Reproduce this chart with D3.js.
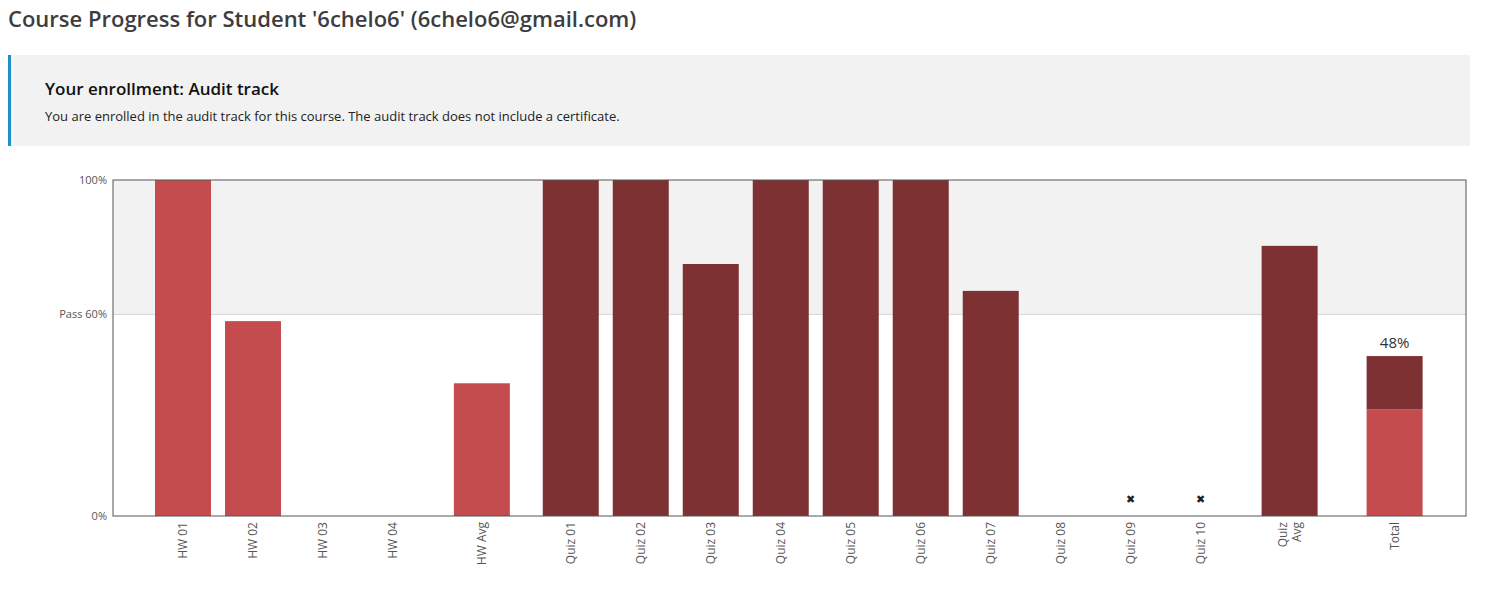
<!DOCTYPE html>
<html><head><meta charset="utf-8">
<script src="https://cdn.jsdelivr.net/npm/d3@7"></script>
<style>
body{margin:0;background:#fff;font-family:"Open Sans",sans-serif;}
h1{position:absolute;left:8px;top:3px;margin:0;font-size:22px;font-weight:600;color:#3d3d3d;}
.box{position:absolute;left:8px;top:55px;width:1459px;height:91px;background:#f2f2f2;border-left:3px solid #1f8fc8;}
.box h3{margin:0;position:absolute;left:34px;top:22px;font-size:17px;font-weight:600;color:#111;}
.box p{margin:0;position:absolute;left:34px;top:52px;font-size:13px;color:#222;}
svg{position:absolute;left:0;top:0;}
</style></head><body>
<h1>Course Progress for Student '6chelo6' (6chelo6@gmail.com)</h1>
<div class="box"><h3>Your enrollment: Audit track</h3><p>You are enrolled in the audit track for this course. The audit track does not include a certificate.</p></div>
<div id="canvas"></div>
<script>
const hwLabels = ["HW 01", "HW 02", "HW 03", "HW 04"];
const hwScores = [100, 58, 0, 0];
const hwAvg = 39.5;
const quizLabels = ["Quiz 01","Quiz 02","Quiz 03","Quiz 04","Quiz 05","Quiz 06","Quiz 07","Quiz 08","Quiz 09","Quiz 10"];
const quizScores = [100, 100, 75, 100, 100, 100, 67, 0, 0, 0];
const quizDropped = [false,false,false,false,false,false,false,false,true,true];
const quizAvg = 80.4;
const totalParts = [31.8, 15.8]; // homework, quiz
const totalLabel = "48%";
const yTicks = [{v:0,t:"0%"},{v:60,t:"Pass 60%"},{v:100,t:"100%"}];

const hwColor = "#c44c4e", quizColor = "#7e3133";
const groupGap = 1.27;

// build slots
let items = [];
hwLabels.forEach((l,i)=>items.push({label:[l],slot:i,v:hwScores[i],c:hwColor}));
let s = hwLabels.length - 1 + groupGap;
items.push({label:["HW Avg"],slot:s,v:hwAvg,c:hwColor});
s += groupGap;
quizLabels.forEach((l,i)=>items.push({label:[l],slot:s+i,v:quizScores[i],c:quizColor,drop:quizDropped[i]}));
s += quizLabels.length - 1 + groupGap;
items.push({label:["Quiz","Avg"],slot:s,v:quizAvg,c:quizColor});
s += 1.5;
const totalSlot = s;

const svg = d3.select("#canvas").append("svg").attr("width",1492).attr("height",596);
const x = d3.scaleLinear().domain([-1, 18.33]).range([113, 1466]);
const y = d3.scaleLinear().domain([0,100]).range([516,180]);
const bw = 56;

svg.append("rect").attr("x",113).attr("y",y(100)).attr("width",1353).attr("height",y(60)-y(100)).attr("fill","#f2f2f2");
svg.append("line").attr("x1",113).attr("x2",1466).attr("y1",y(60)).attr("y2",y(60)).attr("stroke","#d6d6d6");

svg.selectAll(".bar").data(items.filter(d=>d.v>0)).enter().append("rect")
  .attr("x",d=>x(d.slot)-bw/2).attr("width",bw)
  .attr("y",d=>y(d.v)).attr("height",d=>y(0)-y(d.v)).attr("fill",d=>d.c);

// total stacked
let base = 0;
totalParts.forEach((p,i)=>{
  svg.append("rect").attr("x",x(totalSlot)-bw/2).attr("width",bw)
    .attr("y",y(base+p)).attr("height",y(base)-y(base+p)).attr("fill",i===0?hwColor:quizColor);
  base += p;
});
svg.append("text").attr("x",x(totalSlot)).attr("y",y(base)-8).attr("text-anchor","middle")
  .attr("font-size",15).attr("fill","#333").text(totalLabel);

// dropped markers
svg.selectAll(".drop").data(items.filter(d=>d.drop)).enter().append("text")
  .attr("x",d=>x(d.slot)).attr("y",y(0)-13).attr("text-anchor","middle").attr("font-size",11)
  .attr("font-weight","bold").attr("fill","#222").attr("font-family","DejaVu Sans").text("✖");

// frame
svg.append("rect").attr("x",113).attr("y",180).attr("width",1353).attr("height",336)
  .attr("fill","none").attr("stroke","#555");

// y labels
svg.selectAll(".yt").data(yTicks).enter().append("text")
  .attr("x",107).attr("y",d=>y(d.v)+4).attr("text-anchor","end").attr("font-size",11).attr("fill","#555").text(d=>d.t);

// x labels
const all = items.concat([{label:["Total"],slot:totalSlot}]);
all.forEach(d=>{
  const g = svg.append("text").attr("transform",`translate(${x(d.slot)},522) rotate(-90)`)
    .attr("text-anchor","end").attr("font-size",12).attr("fill","#555");
  d.label.forEach((l,i)=>g.append("tspan").attr("x",0).attr("dy",i===0?(d.label.length>1?-3:4):14).text(l));
});
</script>
</body></html>
